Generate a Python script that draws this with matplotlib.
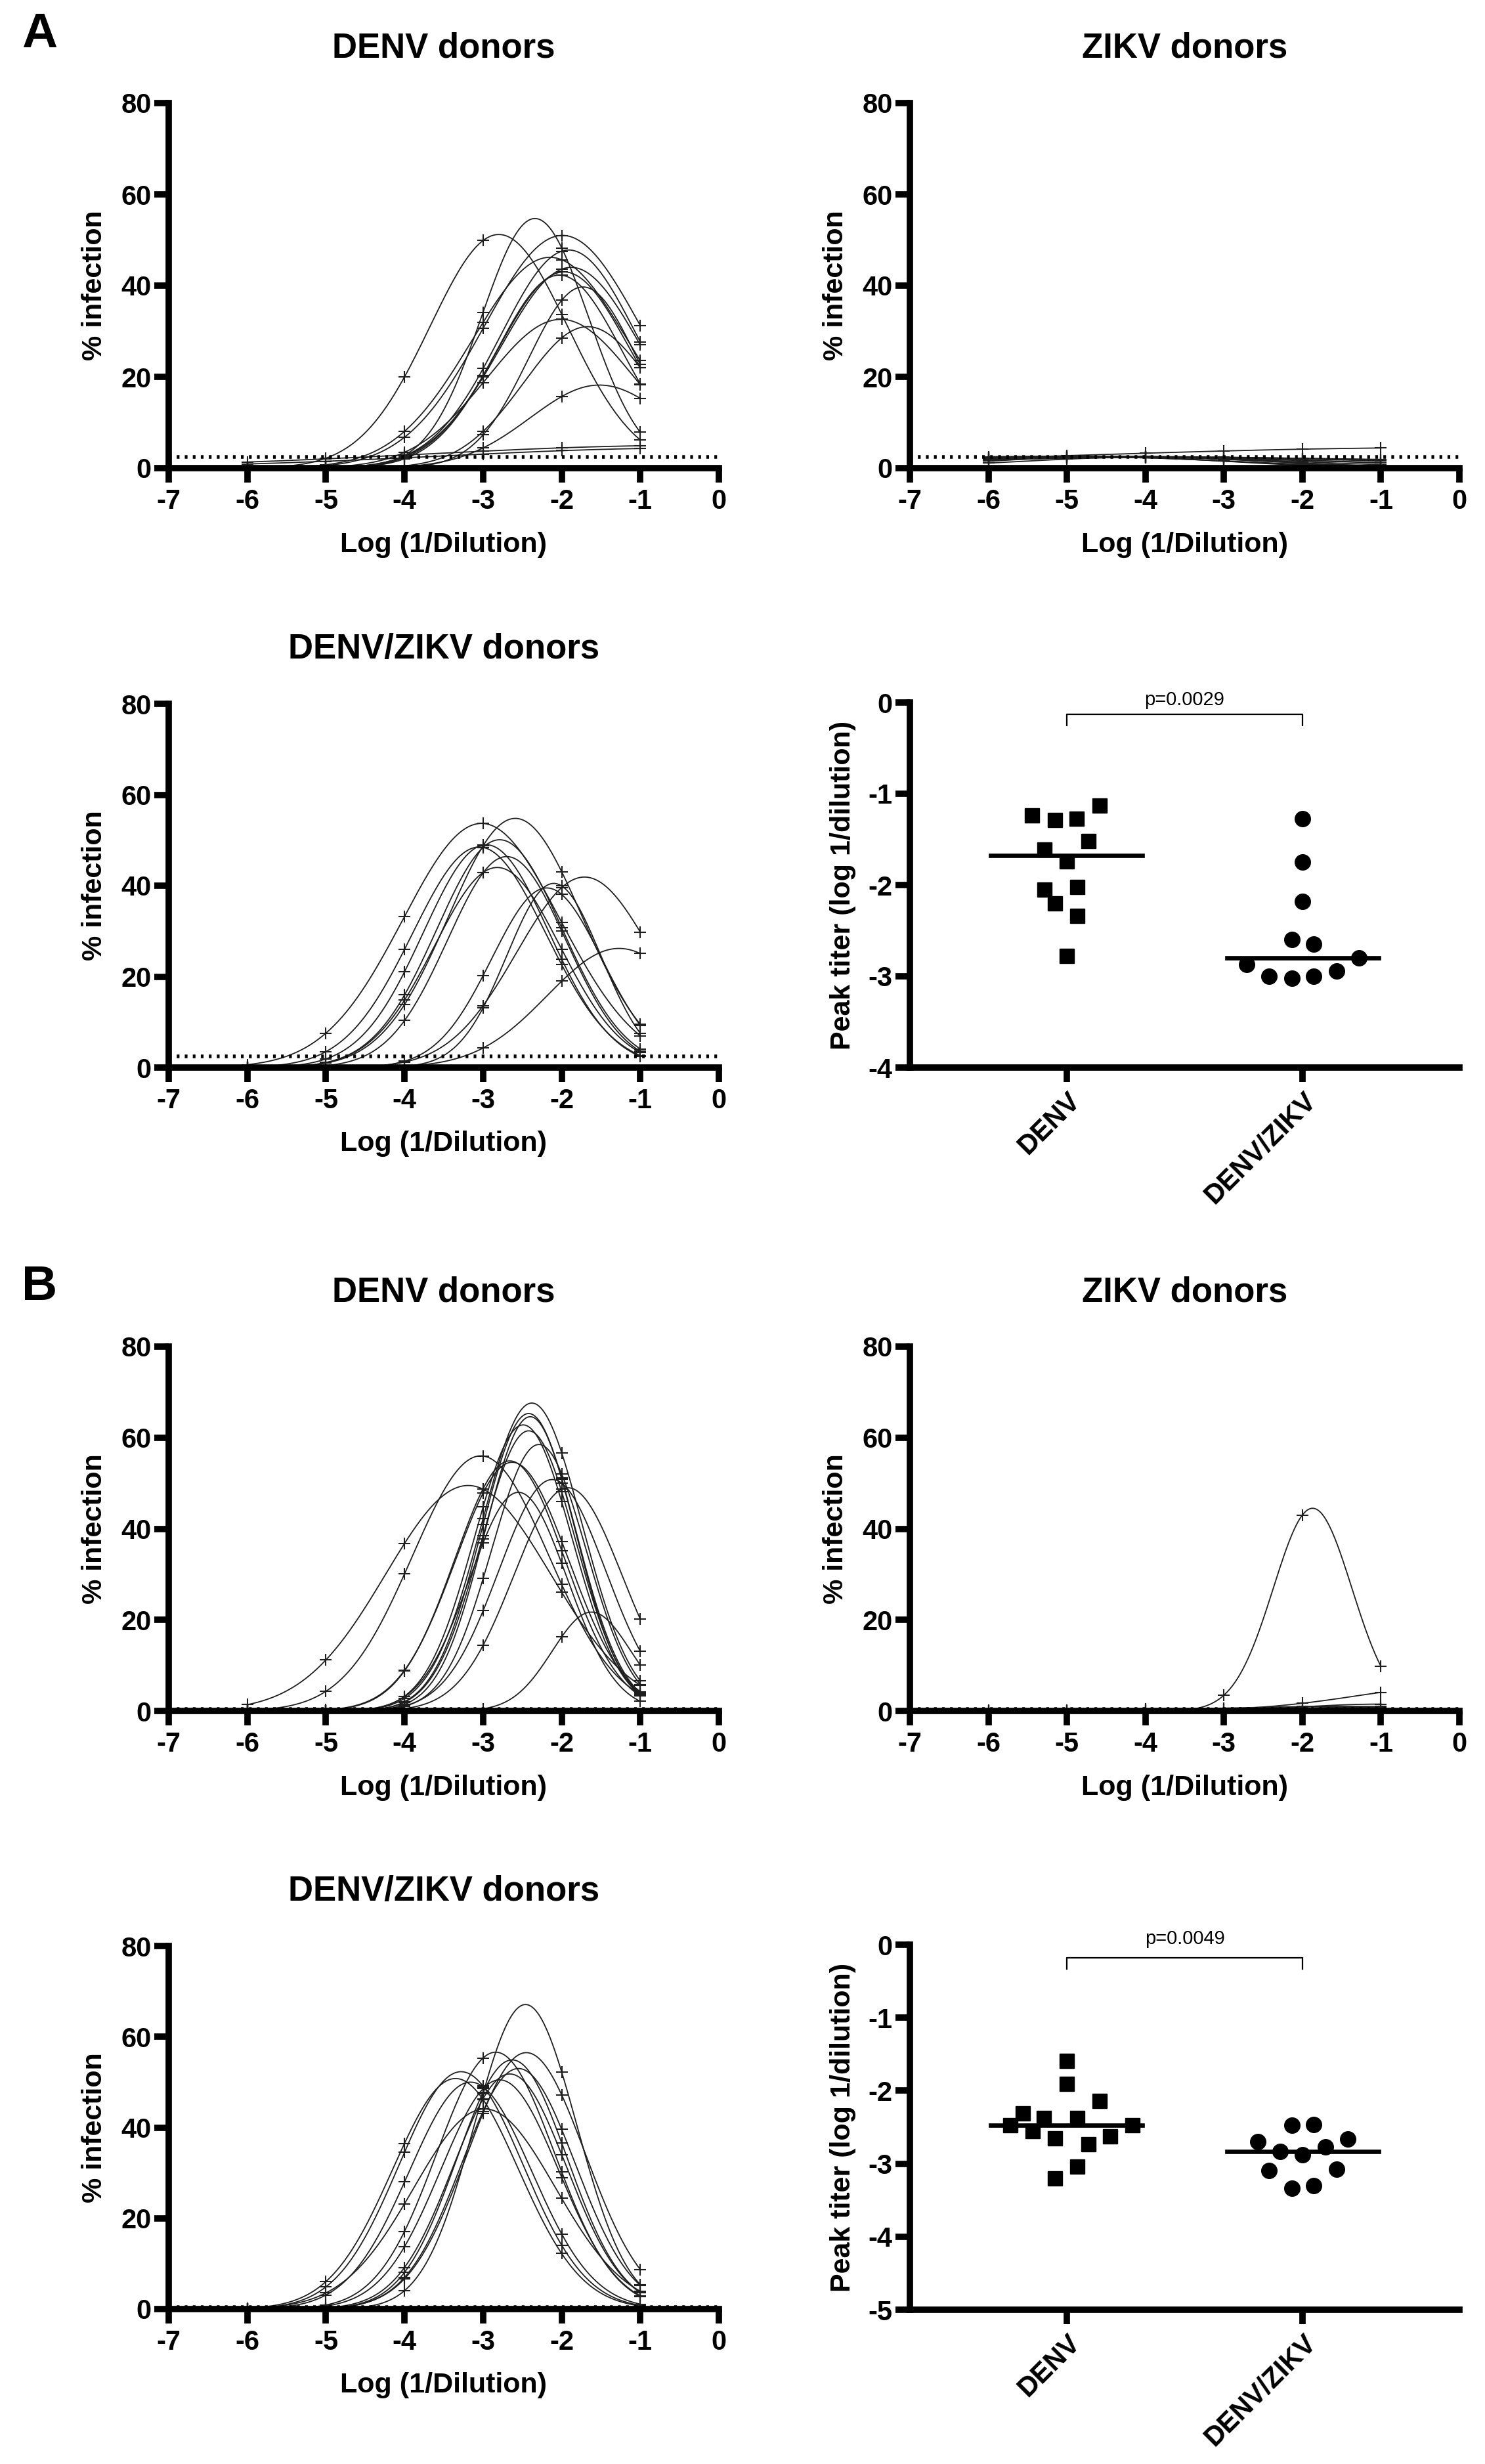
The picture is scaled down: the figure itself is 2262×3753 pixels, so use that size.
import numpy as np
import matplotlib
matplotlib.use("Agg")
import matplotlib.pyplot as plt

plt.rcParams["font.family"] = ["Liberation Sans", "DejaVu Sans"]
plt.rcParams["font.weight"] = "bold"
plt.rcParams["axes.labelweight"] = "bold"
plt.rcParams["axes.unicode_minus"] = False

W, H = 2262, 3753

dilutions = [-6, -5, -4, -3, -2, -1]

# gaussian fits per donor: centre (log 1/dilution), peak (% infection), sd
a_denv_mu = [-2.80, -2.34, -1.99, -1.91, -2.15, -1.88, -1.97, -2.03, -1.73, -2.01, -1.67, -1.52, -0.3, -0.3]
a_denv_amp = [51.2, 54.7, 51.0, 47.8, 46.2, 44.0, 43.0, 42.3, 39.7, 32.6, 31.0, 18.2, 5.0, 4.4]
a_denv_sd = [0.875, 0.68, 1.0, 0.87, 0.99, 0.89, 0.84, 0.80, 0.69, 0.94, 0.81, 0.88, 3.5, 3.2]

a_zikv_mu = [-4.5, -4.2, -4.8, -4.0, -4.5, -4.3, -4.6, -5.0, -4.4, -4.1, -4.7, -4.4, 0.0]
a_zikv_amp = [2.5, 2.4, 2.6, 2.4, 2.5, 2.5, 2.4, 2.6, 2.4, 2.3, 2.6, 2.5, 4.5]
a_zikv_sd = [4.0, 3.5, 4.5, 1.6, 1.5, 1.8, 1.7, 2.0, 5.0, 2.6, 3.0, 2.2, 5.0]

a_dz_mu = [-2.59, -3.02, -2.79, -2.96, -3.05, -2.70, -2.82, -2.19, -1.71, -2.10, -1.27]
a_dz_amp = [54.8, 53.7, 50.1, 49.0, 48.5, 46.4, 44.0, 39.5, 41.9, 40.5, 26.2]
a_dz_sd = [0.85, 1.0, 0.80, 0.80, 0.85, 0.75, 0.80, 0.70, 0.86, 0.60, 0.91]

b_denv_mu = [-2.38, -2.42, -2.40, -2.49, -2.42, -2.29, -3.03, -2.66, -2.63, -3.19, -2.12, -1.92, -1.62, -2.55]
b_denv_amp = [67.6, 65.3, 64.6, 62.8, 61.5, 58.5, 56.0, 54.9, 54.6, 49.5, 50.8, 49.0, 21.7, 48.0]
b_denv_sd = [0.64, 0.60, 0.58, 0.62, 0.60, 0.60, 0.87, 0.70, 0.72, 1.05, 0.68, 0.69, 0.50, 0.62]

b_zikv_mu = [-1.87, 0.0, -1.0, -1.5, -2.0, -1.2]
b_zikv_amp = [44.5, 5.5, 1.5, 1.0, 0.6, 0.8]
b_zikv_sd = [0.50, 1.30, 1.0, 1.5, 2.0, 1.2]

b_dz_mu = [-2.46, -2.45, -2.84, -2.63, -3.28, -3.35, -2.66, -2.79, -2.98, -3.16, -2.55]
b_dz_amp = [67.1, 56.5, 56.6, 54.9, 52.3, 50.8, 51.8, 50.5, 44.1, 50.0, 53.0]
b_dz_sd = [0.65, 0.75, 0.75, 0.70, 0.79, 0.80, 0.72, 0.75, 0.90, 0.78, 0.72]

cutoff_a = 2.5
cutoff_b = 0.5

# peak titers
groups = ["DENV", "DENV/ZIKV"]
a_peak_denv = [-1.24, -1.29, -1.27, -1.13, -1.52, -1.61, -1.74, -2.05, -2.02, -2.20, -2.34, -2.78]
a_peak_denv_dx = [-0.147, -0.05, 0.042, 0.139, 0.092, -0.094, 0.0, -0.094, 0.047, -0.05, 0.047, 0.0]
a_peak_dz = [-1.27, -1.75, -2.18, -2.60, -2.65, -2.80, -2.87, -3.00, -3.02, -3.00, -2.94]
a_peak_dz_dx = [0, 0, 0, -0.047, 0.047, 0.237, -0.237, -0.142, -0.047, 0.047, 0.142]

b_peak_denv = [-1.59, -1.91, -2.14, -2.31, -2.37, -2.37, -2.47, -2.47, -2.55, -2.65, -2.73, -2.63, -3.04, -3.20]
b_peak_denv_dx = [0, 0, 0.139, -0.186, -0.095, 0.047, -0.237, 0.279, -0.142, -0.05, 0.092, 0.184, 0.047, -0.05]
b_peak_dz = [-2.47, -2.46, -2.70, -2.66, -2.83, -2.88, -2.77, -3.09, -3.08, -3.34, -3.30]
b_peak_dz_dx = [-0.047, 0.047, -0.19, 0.19, -0.095, 0, 0.095, -0.142, 0.142, -0.047, 0.047]

p_a = "p=0.0029"
p_b = "p=0.0049"

fig = plt.figure(figsize=(W / 100, H / 100), dpi=100)


def add_ax(x0, x1, y0, y1):
    return fig.add_axes([x0 / W, 1 - y1 / H, (x1 - x0) / W, (y1 - y0) / H])


def style(ax):
    for s in ["top", "right"]:
        ax.spines[s].set_visible(False)
    for s in ["left", "bottom"]:
        ax.spines[s].set_linewidth(7)
    ax.tick_params(width=7, length=16, labelsize=30)
    ax.tick_params(axis="x", pad=6)
    ax.tick_params(axis="y", pad=3)
    for lab in ax.get_xticklabels() + ax.get_yticklabels():
        lab.set_fontweight("bold")


def gauss(x, m, a, s):
    return a * np.exp(-0.5 * ((np.asarray(x, float) - m) / s) ** 2)


def curve_panel(ax, mu, amp, sd, cutoff, title):
    xs = np.linspace(-6, -1, 300)
    for m, a, s in zip(mu, amp, sd):
        ax.plot(xs, gauss(xs, m, a, s), color="#1e1e1e", lw=1.3)
        ax.plot(dilutions, gauss(dilutions, m, a, s), ls="none", marker="+",
                ms=13, mew=1.5, color="#1e1e1e")
    ax.axhline(cutoff, color="black", lw=4.0, ls=(0, (0.75, 1.45)))
    ax.set_xlim(-7, 0)
    ax.set_ylim(0, 80)
    ax.set_xticks(range(-7, 1))
    ax.set_yticks([0, 20, 40, 60, 80])
    style(ax)
    ax.set_xlabel("Log (1/Dilution)", fontsize=31, va="center")
    ax.xaxis.set_label_coords(0.5, -0.21)
    ax.set_ylabel("% infection", fontsize=31, va="center")
    ax.yaxis.set_label_coords(-0.135, 0.5)
    if title:
        ax.text(0.5, 1 + 83 / 556, title, transform=ax.transAxes,
                ha="center", va="center", fontsize=38, fontweight="bold")


def peak_panel(ax, denv, denv_dx, dz, dz_dx, ymin, ptxt, yb, yl, yt):
    ax.plot(np.add(0, denv_dx), denv, ls="none", marker="s", ms=16, color="black")
    ax.plot(np.add(1, dz_dx), dz, ls="none", marker="o", ms=17, color="black")
    for i, vals in enumerate([denv, dz]):
        med = np.median(vals)
        ax.plot([i - 0.32, i + 0.32], [med, med], color="black", lw=4.8)
    ax.plot([0, 0, 1, 1], [yl, yb, yb, yl], color="black", lw=1.6, clip_on=False)
    ax.text(0.5, yt, ptxt, ha="center", va="center", fontsize=21,
            fontweight="normal", clip_on=False)
    ax.set_xlim(-0.663, 1.663)
    ax.set_ylim(ymin, 0)
    ax.set_yticks(range(ymin, 1))
    ax.set_xticks([0, 1])
    ax.set_xticklabels(groups, rotation=45, ha="right", va="top",
                       rotation_mode="anchor")
    style(ax)
    ax.set_ylabel("Peak titer (log 1/dilution)", fontsize=31, va="center")
    ax.yaxis.set_label_coords(-0.122, 0.5)


L0, L1 = 257, 1095
R0, R1 = 1386, 2223

ax = add_ax(L0, L1, 157, 713)
curve_panel(ax, a_denv_mu, a_denv_amp, a_denv_sd, cutoff_a, "DENV donors")
ax = add_ax(R0, R1, 157, 713)
curve_panel(ax, a_zikv_mu, a_zikv_amp, a_zikv_sd, cutoff_a, "ZIKV donors")
ax = add_ax(L0, L1, 1072, 1626)
curve_panel(ax, a_dz_mu, a_dz_amp, a_dz_sd, cutoff_a, "DENV/ZIKV donors")
ax = add_ax(R0, R1, 1070, 1626)
peak_panel(ax, a_peak_denv, a_peak_denv_dx, a_peak_dz, a_peak_dz_dx, -4, p_a,
           -0.13, -0.25, 0.03)

ax = add_ax(L0, L1, 2051, 2606)
curve_panel(ax, b_denv_mu, b_denv_amp, b_denv_sd, cutoff_b, "DENV donors")
ax = add_ax(R0, R1, 2051, 2606)
curve_panel(ax, b_zikv_mu, b_zikv_amp, b_zikv_sd, cutoff_b, "ZIKV donors")
ax = add_ax(L0, L1, 2964, 3517)
curve_panel(ax, b_dz_mu, b_dz_amp, b_dz_sd, cutoff_b, "DENV/ZIKV donors")
ax = add_ax(R0, R1, 2962, 3518)
peak_panel(ax, b_peak_denv, b_peak_denv_dx, b_peak_dz, b_peak_dz_dx, -5, p_b,
           -0.18, -0.33, 0.08)

fig.text(60 / W, 1 - 53 / H, "A", fontsize=54, ha="center", va="center", fontweight="bold")
fig.text(60 / W, 1 - 1961 / H, "B", fontsize=54, ha="center", va="center", fontweight="bold")

fig.savefig("out.png", dpi=100, facecolor="white")
